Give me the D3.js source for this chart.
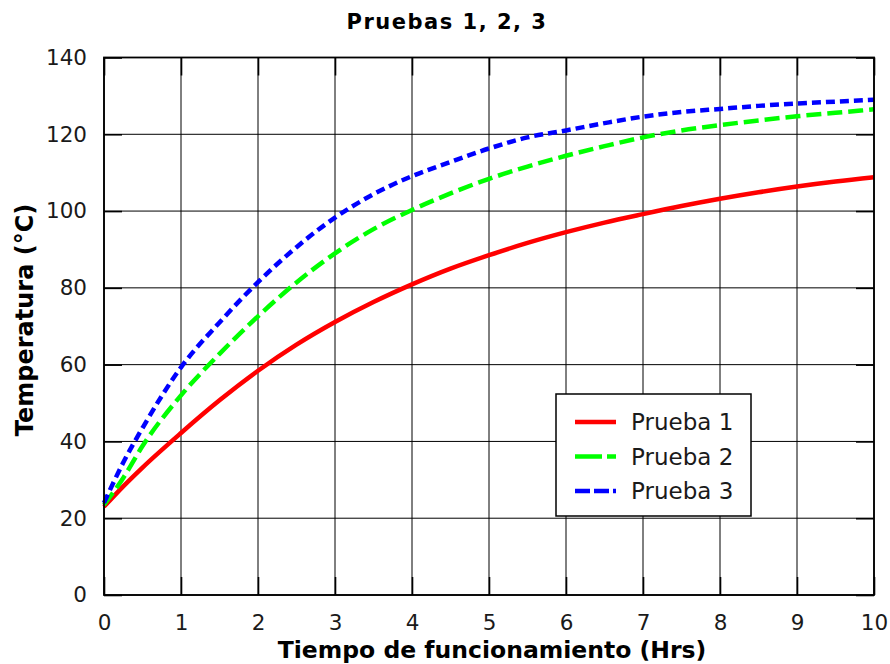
<!DOCTYPE html>
<html><head><meta charset="utf-8">
<script src="https://cdn.jsdelivr.net/npm/d3@7"></script>
<style>body{margin:0;background:#fff}svg{display:block}text{font-family:"DejaVu Sans",sans-serif}</style>
</head><body>
<script>
const hours = [0,0.25,0.5,1,1.5,2,2.5,3,3.5,4,4.5,5,5.5,6,6.5,7,7.5,8,8.5,9,9.5,10];
const prueba1 = [23,28.3,33.2,42.2,50.7,58.4,65.2,71.1,76.3,80.9,85,88.5,91.7,94.5,97,99.2,101.3,103.2,104.9,106.4,107.7,108.8];
const prueba2 = [23.5,30.5,38.8,52,62.8,72.6,81.4,89,95.3,100.3,104.6,108.4,111.6,114.4,116.9,119.2,121,122.4,123.6,124.7,125.6,126.5];
const prueba3 = [24,34.5,43.5,59.3,71,81.5,90.6,98.3,104.4,109.1,112.8,116.3,119.2,121,122.9,124.6,125.8,126.6,127.4,128,128.5,129];
const seriesNames = ["Prueba 1","Prueba 2","Prueba 3"];
const seriesColors = ["#ff0000","#00ff00","#0000ff"];
const seriesDash = [null,"15,6","9,5"];
const xTicks = [0,1,2,3,4,5,6,7,8,9,10];
const yTicks = [0,20,40,60,80,100,120,140];
const titleText = "Pruebas 1, 2, 3";
const xLabel = "Tiempo de funcionamiento (Hrs)";
const yLabel = "Temperatura (°C)";

const W=890,H=664;
const m={l:104,r:16,t:57.5,b:69};
const svg=d3.select("body").append("svg").attr("width",W).attr("height",H);
const x=d3.scaleLinear().domain([0,10]).range([m.l,W-m.r]);
const y=d3.scaleLinear().domain([0,140]).range([H-m.b,m.t]);
const g=svg.append("g");

// grid
g.selectAll(".gx").data(xTicks).enter().append("line")
 .attr("x1",d=>x(d)).attr("x2",d=>x(d)).attr("y1",y(0)).attr("y2",y(140))
 .attr("stroke","#000").attr("stroke-width",1);
g.selectAll(".gy").data(yTicks).enter().append("line")
 .attr("y1",d=>y(d)).attr("y2",d=>y(d)).attr("x1",x(0)).attr("x2",x(10))
 .attr("stroke","#000").attr("stroke-width",1);

// inward ticks
const tl=18;
const axB=d3.axisBottom(x).tickValues(xTicks).tickSizeInner(-tl).tickSizeOuter(0).tickPadding(20);
const axT=d3.axisTop(x).tickValues(xTicks).tickSizeInner(-tl).tickSizeOuter(0).tickFormat("");
const axL=d3.axisLeft(y).tickValues(yTicks).tickSizeInner(-tl).tickSizeOuter(0).tickPadding(17);
const axR=d3.axisRight(y).tickValues(yTicks).tickSizeInner(-tl).tickSizeOuter(0).tickFormat("");
function style(sel){sel.select(".domain").remove();sel.selectAll("line").attr("stroke","#000").attr("stroke-width",1.6);
 sel.selectAll("text").attr("font-size",21.5).attr("fill","#1a1a1a").attr("font-family","DejaVu Sans");}
svg.append("g").attr("transform",`translate(0,${y(0)})`).call(axB).call(style);
svg.append("g").attr("transform",`translate(0,${y(140)})`).call(axT).call(style);
svg.append("g").attr("transform",`translate(${x(0)},0)`).call(axL).call(style);
svg.append("g").attr("transform",`translate(${x(10)},0)`).call(axR).call(style);

// lines
const data=[prueba1,prueba2,prueba3];
const line=d3.line().x((d,i)=>x(hours[i])).y(d=>y(d)).curve(d3.curveMonotoneX);
data.forEach((s,k)=>{
 svg.append("path").datum(s).attr("d",line).attr("fill","none")
  .attr("stroke",seriesColors[k]).attr("stroke-width",4.5)
  .attr("stroke-dasharray",seriesDash[k]);
});

// frame
svg.append("rect").attr("x",x(0)).attr("y",y(140)).attr("width",x(10)-x(0)).attr("height",y(0)-y(140))
 .attr("fill","none").attr("stroke","#000").attr("stroke-width",1.8);

// legend
const lg=svg.append("g").attr("transform","translate(556,394)");
lg.append("rect").attr("width",195).attr("height",122).attr("fill","#fff").attr("stroke","#000").attr("stroke-width",1.5);
seriesNames.forEach((n,k)=>{
 const yy=28+k*34.5;
 lg.append("line").attr("x1",19).attr("x2",60).attr("y1",yy).attr("y2",yy)
  .attr("stroke",seriesColors[k]).attr("stroke-width",4.5).attr("stroke-dasharray",k==0?null:(k==1?"27,5":"15,4"));
 lg.append("text").attr("x",75).attr("y",yy+8).attr("font-size",23).attr("fill","#1a1a1a").text(n);
});

// titles
svg.append("text").attr("x",447).attr("y",29).attr("text-anchor","middle").attr("font-size",21).attr("font-weight","bold").attr("letter-spacing",1.5).text(titleText);
svg.append("text").attr("x",492).attr("y",658).attr("text-anchor","middle").attr("font-size",23.5).attr("font-weight","bold").text(xLabel);
svg.append("text").attr("transform","translate(33,320) rotate(-90)").attr("text-anchor","middle").attr("font-size",24).attr("font-weight","bold").text(yLabel);
</script>
</body></html>
